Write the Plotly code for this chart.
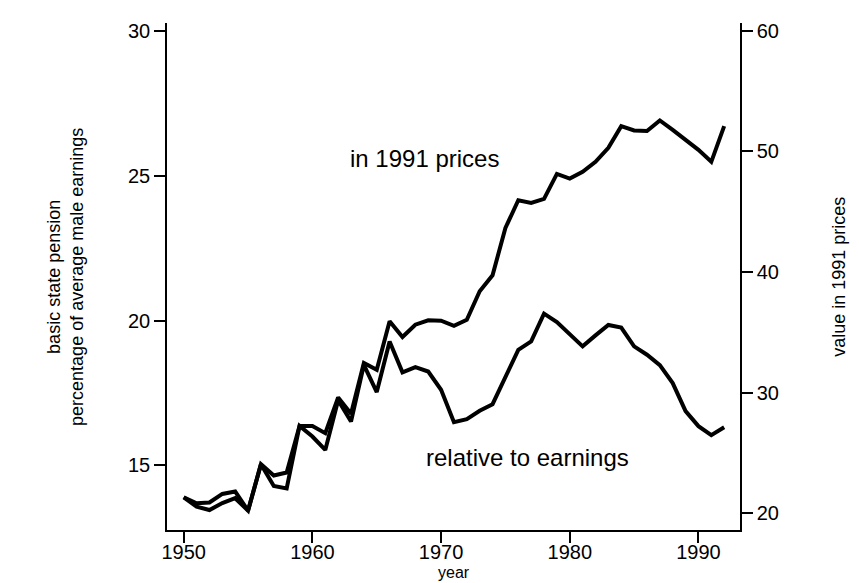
import plotly.graph_objects as go

years = list(range(1950, 1993))

# value in 1991 prices (right axis)
in_1991_prices = [21.33, 20.83, 20.89, 21.60, 21.80, 20.22, 24.07, 23.13, 23.38, 27.24,
                  27.24, 26.64, 29.60, 28.24, 32.45, 31.89, 35.91, 34.61, 35.63, 35.99,
                  35.96, 35.54, 36.04, 38.40, 39.73, 43.65, 45.95, 45.73, 46.06, 48.13,
                  47.74, 48.30, 49.13, 50.29, 52.09, 51.73, 51.68, 52.56, 51.78, 50.95,
                  50.12, 49.13, 52.09]

# percentage of average male earnings (left axis)
relative_to_earnings = [13.89, 13.57, 13.45, 13.69, 13.86, 13.43, 15.03, 14.28, 14.20, 16.36,
                        15.99, 15.53, 17.25, 16.51, 18.47, 17.53, 19.28, 18.21, 18.39, 18.24,
                        17.61, 16.49, 16.59, 16.88, 17.11, 18.07, 18.99, 19.28, 20.24, 19.95,
                        19.51, 19.11, 19.49, 19.85, 19.76, 19.11, 18.82, 18.46, 17.84, 16.87,
                        16.35, 16.04, 16.31]

x_ticks = [1950, 1960, 1970, 1980, 1990]
left_ticks = [15, 20, 25, 30]
right_ticks = [20, 30, 40, 50, 60]

FONT = "Liberation Sans, Arial, Helvetica, sans-serif"

fig = go.Figure()
fig.add_trace(go.Scatter(x=years, y=relative_to_earnings, mode="lines",
                         line=dict(color="black", width=4), yaxis="y", showlegend=False))
fig.add_trace(go.Scatter(x=years, y=in_1991_prices, mode="lines",
                         line=dict(color="black", width=4), yaxis="y2", showlegend=False))

axis_common = dict(showgrid=False, zeroline=False, showline=True, linecolor="black",
                   linewidth=1.5, ticks="outside", ticklen=11, tickwidth=1.5,
                   tickcolor="black", tickfont=dict(family=FONT, size=20, color="black"),
                   automargin=False)

fig.update_layout(
    width=859, height=583,
    margin=dict(l=159, r=127, t=15, b=61),
    paper_bgcolor="white", plot_bgcolor="white",
    xaxis=dict(range=[1948.70, 1993.23], tickvals=x_ticks, ticklabelstandoff=-8,
               **axis_common),
    yaxis=dict(range=[12.76, 30.29], tickvals=left_ticks, **axis_common),
    yaxis2=dict(range=[18.61, 60.64], tickvals=right_ticks, overlaying="y", side="right",
                **axis_common),
    annotations=[
        dict(text="in 1991 prices", xref="paper", yref="paper", x=0.449, y=0.763,
             showarrow=False, font=dict(family=FONT, size=24, color="black")),
        dict(text="relative to earnings", xref="paper", yref="paper", x=0.630, y=0.112,
             showarrow=False, font=dict(family=FONT, size=24, color="black")),
        dict(text="basic state pension<br>percentage of average male earnings",
             xref="paper", yref="paper", x=(34 - 159) / 572.7, y=0.5, textangle=-90,
             showarrow=False, font=dict(family=FONT, size=18, color="black")),
        dict(text="value in 1991 prices", xref="paper", yref="paper", x=(842 - 159) / 572.7,
             y=0.5, textangle=-90, showarrow=False,
             font=dict(family=FONT, size=18, color="black")),
        dict(text="year", xref="paper", yref="paper", x=0.5, y=(521.7 - 574) / 506.7,
             showarrow=False, borderpad=0,
             font=dict(family=FONT, size=16, color="black")),
    ],
)

fig.write_html("out.html")
